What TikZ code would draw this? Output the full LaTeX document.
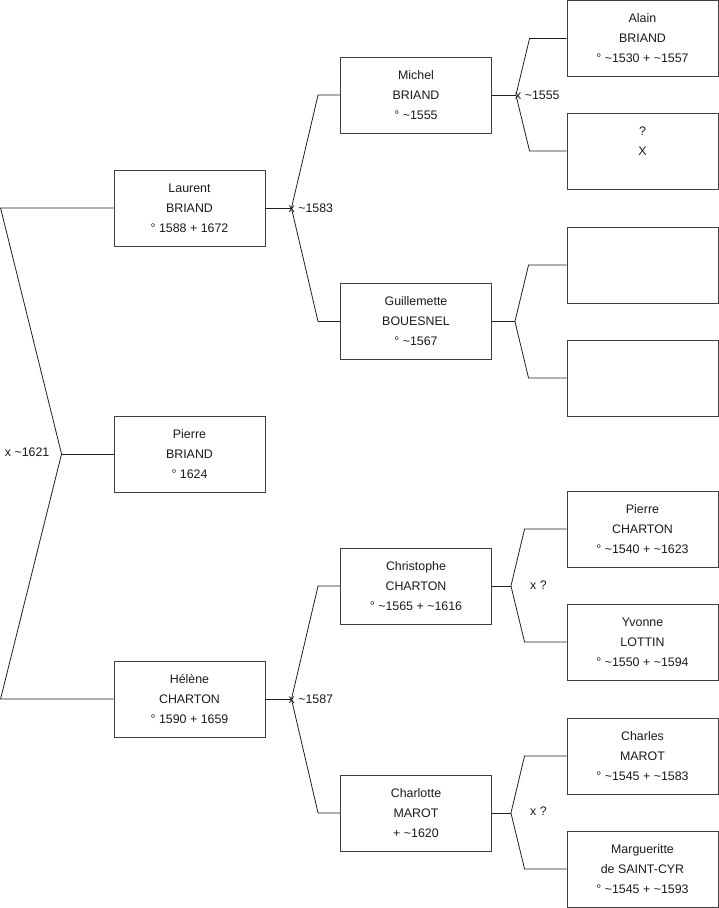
\documentclass[tikz,border=0pt]{standalone}
\usepackage{fontspec}
\setmainfont{Liberation Sans}
\usepackage{tikz}
\usetikzlibrary{positioning}
\definecolor{gtBox}{HTML}{404040}
\definecolor{gtLink}{HTML}{202020}
\definecolor{gtText}{HTML}{1A1A1A}
\tikzset{
  gtnode/.style={
    draw=gtBox, line width=0.9pt, minimum width=151pt, minimum height=76pt,
    inner sep=0pt, font=\fontsize{12.4}{20}\selectfont, align=center, text=gtText
  },
  gtlink/.style={draw=gtLink, line width=0.8pt},
  gtmarr/.style={font=\fontsize{12.4}{14}\selectfont, inner sep=0pt, text=gtText}
}
\newcommand{\tld}{\textasciitilde}

\begin{document}
\begin{tikzpicture}[x=1pt, y=-1pt]
  \useasboundingbox (0,0) rectangle (719,908);
  % generation 1
  \node[gtnode] (laurent) at (189.5,208) {Laurent\\BRIAND\\° 1588 + 1672};
  \node[gtnode] (pierre)  at (189.5,454) {Pierre\\BRIAND\\° 1624};
  \node[gtnode] (helene)  at (189.5,699) {Hélène\\CHARTON\\° 1590 + 1659};
  % generation 2
  \node[gtnode] (michel)     at (416,95)    {Michel\\BRIAND\\° \tld1555};
  \node[gtnode] (guill)      at (416,321.5) {Guillemette\\BOUESNEL\\° \tld1567};
  \node[gtnode] (christophe) at (416,586)   {Christophe\\CHARTON\\° \tld1565 + \tld1616};
  \node[gtnode] (charlotte)  at (416,813)   {Charlotte\\MAROT\\+ \tld1620};
  % generation 3
  \node[gtnode] (alain)     at (642.5,38.5) {Alain\\BRIAND\\° \tld1530 + \tld1557};
  \node[gtnode] (unknown)   at (642.5,151)  {?\\X\\\mbox{}};
  \node[gtnode] (blankA)    at (642.5,265)  {};
  \node[gtnode] (blankB)    at (642.5,378)  {};
  \node[gtnode] (pierreC)   at (642.5,529)  {Pierre\\CHARTON\\° \tld1540 + \tld1623};
  \node[gtnode] (yvonne)    at (642.5,642)  {Yvonne\\LOTTIN\\° \tld1550 + \tld1594};
  \node[gtnode] (charles)   at (642.5,756)  {Charles\\MAROT\\° \tld1545 + \tld1583};
  \node[gtnode] (marg)      at (642.5,869)  {Margueritte\\de SAINT-CYR\\° \tld1545 + \tld1593};

  % forks
  \coordinate (jRoot) at ([xshift=-52pt]pierre.west);
  \coordinate (jLaurent) at ([xshift=26pt]laurent.east);
  \coordinate (jHelene) at ([xshift=26pt]helene.east);
  \coordinate (jMichel) at ([xshift=24pt]michel.east);
  \coordinate (jGuill) at ([xshift=23pt]guill.east);
  \coordinate (jChris) at ([xshift=19pt]christophe.east);
  \coordinate (jCharl) at ([xshift=19pt]charlotte.east);

  \draw[gtlink] (laurent.west) -- ++(-113pt,0) -- (jRoot) -- ([xshift=-113pt]helene.west) -- (helene.west);
  \draw[gtlink] (jRoot) -- (pierre.west);

  \draw[gtlink] (laurent.east) -- (jLaurent);
  \draw[gtlink] (michel.west) -- ++(-22pt,0) -- (jLaurent) -- ([xshift=-22pt]guill.west) -- (guill.west);
  \draw[gtlink] (helene.east) -- (jHelene);
  \draw[gtlink] (christophe.west) -- ++(-22pt,0) -- (jHelene) -- ([xshift=-22pt]charlotte.west) -- (charlotte.west);

  \draw[gtlink] (michel.east) -- (jMichel);
  \draw[gtlink] (alain.west) -- ++(-37pt,0) -- (jMichel) -- ([xshift=-37pt]unknown.west) -- (unknown.west);
  \draw[gtlink] (guill.east) -- (jGuill);
  \draw[gtlink] (blankA.west) -- ++(-38pt,0) -- (jGuill) -- ([xshift=-38pt]blankB.west) -- (blankB.west);
  \draw[gtlink] (christophe.east) -- (jChris);
  \draw[gtlink] (pierreC.west) -- ++(-42pt,0) -- (jChris) -- ([xshift=-42pt]yvonne.west) -- (yvonne.west);
  \draw[gtlink] (charlotte.east) -- (jCharl);
  \draw[gtlink] (charles.west) -- ++(-42pt,0) -- (jCharl) -- ([xshift=-42pt]marg.west) -- (marg.west);

  % marriages
  \node[gtmarr, anchor=east] (mRoot) at ([xshift=-12pt,yshift=2pt]jRoot) {x \tld1621};
  \node[gtmarr, anchor=west] (mLaurent) at ([xshift=-3pt]jLaurent) {x \tld1583};
  \node[gtmarr, anchor=west] (mHelene) at ([xshift=-3pt]jHelene) {x \tld1587};
  \node[gtmarr, anchor=west] (mMichel) at ([xshift=-1pt]jMichel) {x \tld1555};
  \node[gtmarr, anchor=west] (mChris) at ([xshift=19pt,yshift=1pt]jChris) {x ?};
  \node[gtmarr, anchor=west] (mCharl) at ([xshift=19pt,yshift=2pt]jCharl) {x ?};
\end{tikzpicture}
\end{document}
